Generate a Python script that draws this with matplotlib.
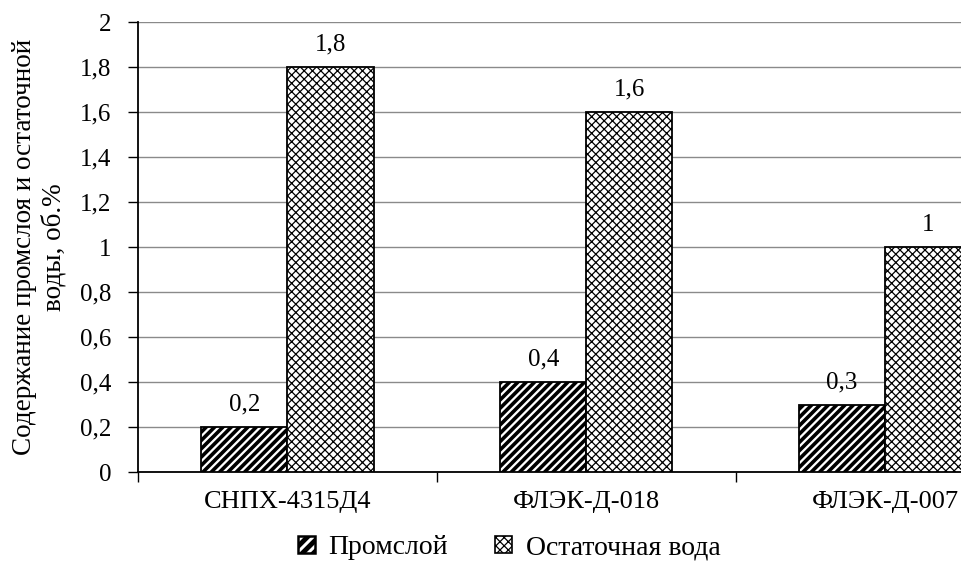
import numpy as np
import matplotlib as mpl
from matplotlib import pyplot as plt
from matplotlib.patches import Patch

plt.rcParams['font.family'] = ['Liberation Serif', 'DejaVu Serif']

samples = ['СНПХ-4315Д4', 'ФЛЭК-Д-018', 'ФЛЭК-Д-007']
promsloy = [0.2, 0.4, 0.3]
ostatok = [1.8, 1.6, 1.0]
yticks = [0, 0.2, 0.4, 0.6, 0.8, 1, 1.2, 1.4, 1.6, 1.8, 2]


def fmt(v):
    # запятая как десятичный разделитель
    s = ('%g' % v)
    return s.replace('.', ',')


def hatched(artists, lw):
    for p in artists:
        if hasattr(p, 'set_hatch_linewidth'):
            p.set_hatch_linewidth(lw)


fig = plt.figure(figsize=(9.61, 5.66), dpi=100)
ax = fig.add_axes([0.1436, 0.166, 0.933, 0.795])

x = np.arange(len(samples))
w = 0.288

mpl.rcParams['hatch.linewidth'] = 2.6
b1 = ax.bar(x - w / 2, promsloy, w, color='white', edgecolor='black',
            linewidth=1.3, hatch='////', zorder=3)
hatched(b1, 2.6)
mpl.rcParams['hatch.linewidth'] = 0.9
b2 = ax.bar(x + w / 2, ostatok, w, color='white', edgecolor='black',
            linewidth=1.3, hatch='xxxx', zorder=3)
hatched(b2, 0.9)

# подписи значений над столбцами
for bars, vals in ((b1, promsloy), (b2, ostatok)):
    for rect, v in zip(bars, vals):
        ax.annotate(fmt(v), (rect.get_x() + rect.get_width() / 2, v),
                    xytext=(0, 16), textcoords='offset points',
                    ha='center', va='center', fontsize=18, zorder=4)

ax.set_xlim(-0.5, len(samples) - 0.5)
ax.set_ylim(0, 2)
ax.set_yticks(yticks)
ax.set_yticklabels([fmt(v) for v in yticks], fontsize=18)
ax.yaxis.grid(True, color='#8a8a8a', linewidth=1.0, zorder=0)
ax.tick_params(axis='y', direction='out', length=7, width=1, pad=12)

ax.set_xticks(x)
ax.set_xticklabels(samples, fontsize=19)
ax.tick_params(axis='x', which='major', length=0, pad=14)
ax.set_xticks([-0.5, 0.5, 1.5, 2.5], minor=True)
ax.tick_params(axis='x', which='minor', direction='out', length=7, width=1)

for s in ('top', 'right'):
    ax.spines[s].set_visible(False)
ax.spines['left'].set_linewidth(1.3)
ax.spines['bottom'].set_linewidth(1.3)

ax.set_ylabel('Содержание промслоя и остаточной\nводы, об.%', fontsize=19.5,
              linespacing=1.2)
ax.yaxis.set_label_coords(-0.08, 0.5)

# маркеры легенды
h1 = Patch(facecolor='white', edgecolor='black', linewidth=1.8, hatch='///')
h2 = Patch(facecolor='white', edgecolor='black', linewidth=1.2, hatch='xxxx')

leg = fig.legend(handles=[h1, h2], labels=['Промслой', 'Остаточная вода'],
                 loc='center', bbox_to_anchor=(0.53, 0.032),
                 ncol=2, frameon=False, fontsize=20, handlelength=0.6,
                 handleheight=0.6, handletextpad=0.5, columnspacing=1.7)
lp = leg.get_patches()
hatched(lp[:1], 3.5)
hatched(lp[1:], 0.9)

plt.savefig('out.png', dpi=100)
